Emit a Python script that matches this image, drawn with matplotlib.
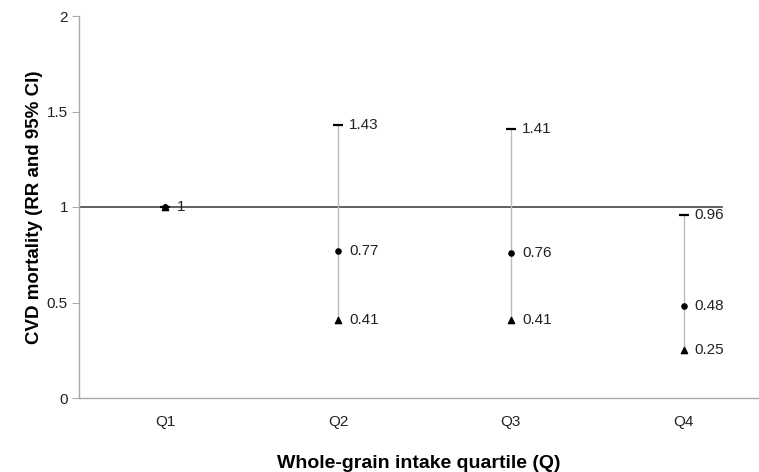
import numpy as np
import matplotlib.pyplot as plt

plt.rcParams['font.family'] = ['Liberation Sans', 'DejaVu Sans']

# Data
quartiles = ['Q1', 'Q2', 'Q3', 'Q4']
rr = [1.00, 0.77, 0.76, 0.48]
ci_low = [1.00, 0.41, 0.41, 0.25]
ci_high = [1.00, 1.43, 1.41, 0.96]

x = np.arange(len(quartiles))

fig = plt.figure(figsize=(7.59, 4.72), dpi=100)
ax = fig.add_axes([79 / 759, 1 - 398 / 472, 680 / 759, 382 / 472])

# reference line at RR = 1
ax.plot([-0.5, 3.22], [1, 1], color='#444444', lw=1.2, zorder=1)

# confidence interval whiskers
for xi, lo, hi in zip(x, ci_low, ci_high):
    if hi > lo:
        ax.plot([xi, xi], [lo, hi], color='#bbbbbb', lw=1.0, zorder=2)

ax.scatter(x, ci_high, marker='_', s=50, color='black', linewidths=1.6, zorder=3)
ax.scatter(x, ci_low, marker='^', s=20, color='black', zorder=3)
ax.scatter(x, rr, marker='o', s=14, color='black', zorder=3)

def fmt(v):
    return '%g' % v

# value labels
done = set()
for xi, vals in zip(x, zip(ci_low, rr, ci_high)):
    for v in vals:
        if (xi, v) in done:
            continue
        done.add((xi, v))
        ax.annotate(fmt(v), (xi, v), xytext=(8, 0), textcoords='offset points',
                    va='center', ha='left', fontsize=11, color='#222222')

ax.set_xlim(-0.5, 3.436)
ax.set_ylim(0, 2)
ax.set_yticks([0, 0.5, 1, 1.5, 2])
ax.set_yticklabels(['0', '0.5', '1', '1.5', '2'])
ax.set_xticks(x)
ax.set_xticklabels(quartiles)

for s in ['top', 'right']:
    ax.spines[s].set_visible(False)
for s in ['left', 'bottom']:
    ax.spines[s].set_color('#aaaaaa')
    ax.spines[s].set_linewidth(1.0)

ax.tick_params(axis='x', length=0, pad=12, labelsize=11, colors='#222222')
ax.tick_params(axis='y', length=5, width=0.8, color='#aaaaaa', pad=3, labelsize=11,
               labelcolor='#222222')

ax.set_ylabel('CVD mortality (RR and 95% CI)', fontsize=13.5, fontweight='bold', labelpad=3)
ax.set_xlabel('Whole-grain intake quartile (Q)', fontsize=14, fontweight='bold', labelpad=19)

fig.savefig('out.png', dpi=100)
